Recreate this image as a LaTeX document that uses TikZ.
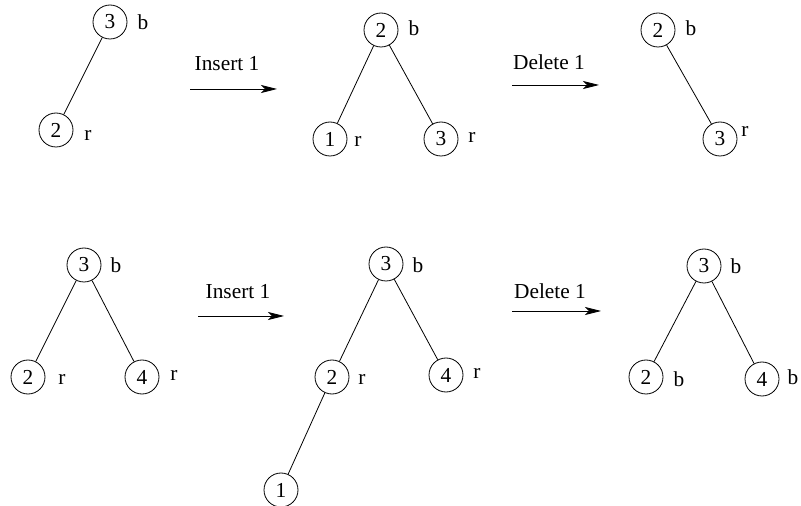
\documentclass[tikz,border=0pt]{standalone}
\usepackage{fontspec}
\setmainfont{Liberation Serif}
\usetikzlibrary{arrows.meta}

\begin{document}
\begin{tikzpicture}[x=0.75pt, y=-0.75pt, every node/.style={font=\fontsize{16}{19}\selectfont},
	vertex/.style={circle, draw, line width=0.6pt, minimum size=25.5pt, inner sep=0pt},
	edge/.style={line width=0.6pt},
	step arrow/.style={line width=0.6pt, -{Stealth[length=12pt, width=6pt, inset=3pt]}}]
	\useasboundingbox (0,0) rectangle (801,506);

	% Tree before first insertion
	\node[vertex] (a3) at (110,22) {3};
	\node[vertex] (a2) at (56,130) {2};
	\node at (143,22) {b};
	\node at (88,135) {r};
	\draw[edge] (a3) -- (a2);

	% Insert 1
	\coordinate (ia1) at (190,89);
	\coordinate (ib1) at (277,89);
	\draw[step arrow] (ia1) -- (ib1);
	\node at (227,64) {Insert 1};

	% Tree after first insertion
	\node[vertex] (b2) at (381,30) {2};
	\node[vertex] (b1) at (330,139) {1};
	\node[vertex] (b3) at (441,139) {3};
	\node at (414,28) {b};
	\node at (358,141) {r};
	\node at (472,137) {r};
	\draw[edge] (b2) -- (b1);
	\draw[edge] (b2) -- (b3);

	% Delete 1
	\coordinate (da1) at (512,85);
	\coordinate (db1) at (599,85);
	\draw[step arrow] (da1) -- (db1);
	\node at (549,62) {Delete 1};

	% Tree after first deletion
	\node[vertex] (c2) at (658,30) {2};
	\node[vertex] (c3) at (720,139) {3};
	\node at (691,28) {b};
	\node at (745,131) {r};
	\draw[edge] (c2) -- (c3);

	% Tree before second insertion
	\node[vertex] (d3) at (84,265) {3};
	\node[vertex] (d2) at (28,377) {2};
	\node[vertex] (d4) at (142,377) {4};
	\node at (116,265) {b};
	\node at (62,379) {r};
	\node at (174,375) {r};
	\draw[edge] (d3) -- (d2);
	\draw[edge] (d3) -- (d4);

	% Insert 1
	\coordinate (ia2) at (198,316);
	\coordinate (ib2) at (284,316);
	\draw[step arrow] (ia2) -- (ib2);
	\node at (238,292) {Insert 1};

	% Tree after second insertion
	\node[vertex] (e3) at (386,264) {3};
	\node[vertex] (e2) at (332,377) {2};
	\node[vertex] (e4) at (446,375) {4};
	\node[vertex] (e1) at (281,490) {1};
	\node at (418,265) {b};
	\node at (362,379) {r};
	\node at (477,373) {r};
	\draw[edge] (e3) -- (e2);
	\draw[edge] (e3) -- (e4);
	\draw[edge] (e2) -- (e1);

	% Delete 1
	\coordinate (da2) at (512,311);
	\coordinate (db2) at (601,311);
	\draw[step arrow] (da2) -- (db2);
	\node at (550,291) {Delete 1};

	% Tree after second deletion
	\node[vertex] (f3) at (704,266) {3};
	\node[vertex] (f2) at (646,377) {2};
	\node[vertex] (f4) at (762,379) {4};
	\node at (736,266) {b};
	\node at (679,379) {b};
	\node at (793,377) {b};
	\draw[edge] (f3) -- (f2);
	\draw[edge] (f3) -- (f4);
\end{tikzpicture}
\end{document}
